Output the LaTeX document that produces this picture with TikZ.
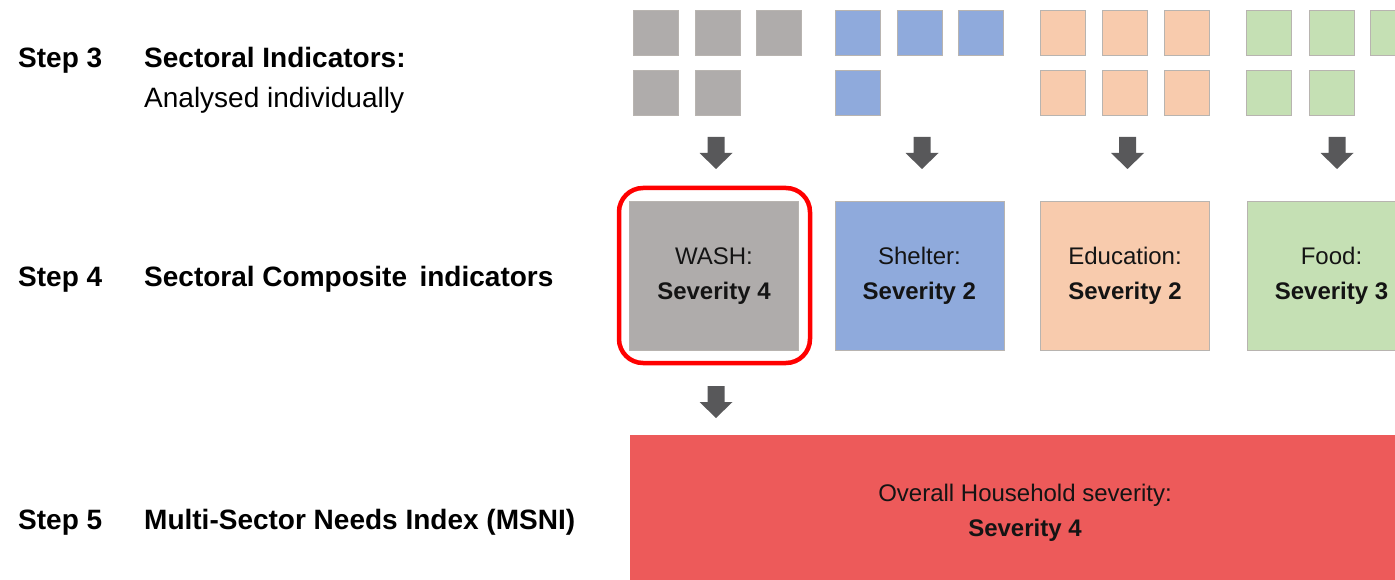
\documentclass[tikz,border=0pt]{standalone}
\usepackage{fontspec}
\setmainfont{Liberation Sans}
\definecolor{cgray}{HTML}{AFACAB}
\definecolor{cblue}{HTML}{8FAADC}
\definecolor{corange}{HTML}{F8CBAD}
\definecolor{cgreen}{HTML}{C5E0B4}
\definecolor{cred}{HTML}{ED5A5A}
\definecolor{carrow}{HTML}{58585A}
\definecolor{cedge}{HTML}{B8B4B0}
\definecolor{ctext}{HTML}{141414}
\begin{document}
\begin{tikzpicture}[x=1pt,y=-1pt,
  sq/.style={draw=cedge,line width=0.8pt,minimum width=45pt,minimum height=45pt,inner sep=0pt},
  bigbox/.style={draw=cedge,line width=0.8pt,minimum width=169pt,minimum height=149pt,inner sep=0pt,
     align=center,text=ctext,font=\fontsize{24}{35}\selectfont},
  steplbl/.style={anchor=base west,inner sep=0pt,font=\fontsize{28}{34}\bfseries\selectfont},
  desclbl/.style={anchor=base west,inner sep=0pt,font=\fontsize{28}{34}\selectfont},
  blockarrow/.style={fill=carrow,draw=none}
]
\useasboundingbox (0,0) rectangle (1395,580);
\begin{scope}
\clip (0,0) rectangle (1395,580);
% Step 3 small squares
\foreach \x [count=\i] in {656,718.3,779.3}{\node[sq,fill=cgray] (ga\i) at (\x,32.7) {};}
\foreach \x [count=\i] in {656,718.3}{\node[sq,fill=cgray] (gb\i) at (\x,92.8) {};}
\foreach \x [count=\i] in {858,919.8,981.3}{\node[sq,fill=cblue] (ba\i) at (\x,32.7) {};}
\foreach \x [count=\i] in {858}{\node[sq,fill=cblue] (bb\i) at (\x,92.8) {};}
\foreach \x [count=\i] in {1063.3,1124.5,1186.8}{\node[sq,fill=corange] (oa\i) at (\x,32.7) {};}
\foreach \x [count=\i] in {1063.3,1124.5,1186.8}{\node[sq,fill=corange] (ob\i) at (\x,92.8) {};}
\foreach \x [count=\i] in {1269.2,1331.5,1393}{\node[sq,fill=cgreen] (fa\i) at (\x,32.7) {};}
\foreach \x [count=\i] in {1269.2,1331.5}{\node[sq,fill=cgreen] (fb\i) at (\x,92.8) {};}
% Step 4 boxes
\node[bigbox,fill=cgray] (wash) at (714,276) {WASH:\\\textbf{Severity 4}};
\node[bigbox,fill=cblue] (shelter) at (919.4,276) {Shelter:\\\textbf{Severity 2}};
\node[bigbox,fill=corange] (edu) at (1125,276) {Education:\\\textbf{Severity 2}};
\node[bigbox,fill=cgreen] (food) at (1331.5,276) {Food:\\\textbf{Severity 3}};
\draw[red,line width=4.5pt,rounded corners=24pt] (619,188) rectangle (810,363);
% Step 5 box
\node[fill=cred,minimum width=790pt,minimum height=155pt,inner sep=0pt,align=center,text=ctext,
  font=\fontsize{24}{35}\selectfont] (msni) at (1025,512.5) {Overall Household severity:\\\textbf{Severity 4}};
\end{scope}
% block arrows
\foreach \cx/\ty/\nm in {716/137/a1,922/137/a2,1127.5/137/a3,1337/137/a4,716/386/a5}{
  \coordinate (\nm) at (\cx,\ty);
  \fill[blockarrow] ([xshift=-8.5pt]\nm) -- ([xshift=8.5pt]\nm) -- ([xshift=8.5pt,yshift=-16pt]\nm)
    -- ([xshift=16.5pt,yshift=-16pt]\nm) -- ([yshift=-32pt]\nm) -- ([xshift=-16.5pt,yshift=-16pt]\nm)
    -- ([xshift=-8.5pt,yshift=-16pt]\nm) -- cycle;
}
% step labels
\node[steplbl] (s3) at (18,68) {Step 3};
\node[steplbl] (t3) at (144,68) {Sectoral Indicators:};
\node[desclbl] (d3) at (144,108) {Analysed individually};
\node[steplbl] (s4) at (18,287) {Step 4};
\node[steplbl] (t4) at (144,287) {Sectoral Composite\, indicators};
\node[steplbl] (s5) at (18,529) {Step 5};
\node[steplbl] (t5) at (144,529) {Multi-Sector Needs Index (MSNI)};
\end{tikzpicture}
\end{document}
